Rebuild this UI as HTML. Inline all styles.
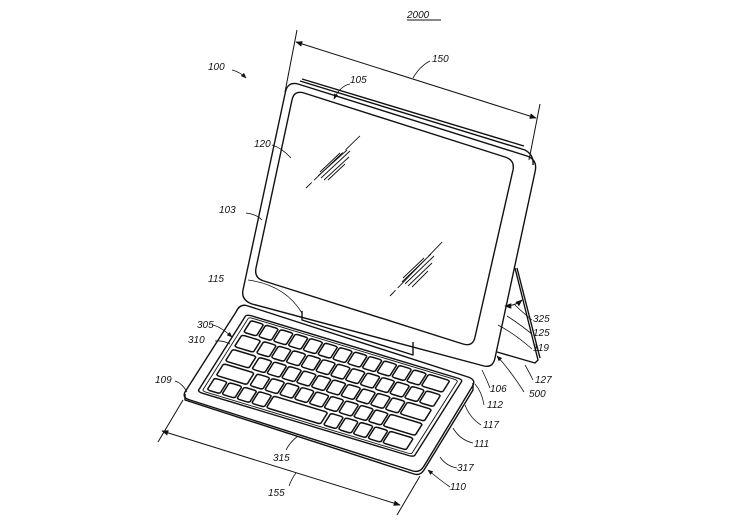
<!DOCTYPE html>
<html><head><meta charset="utf-8"><style>
html,body{margin:0;padding:0;background:#fff}
svg{display:block}
text{font-family:"Liberation Sans",sans-serif;font-style:italic;font-size:10px;fill:#111}
</style></head><body>
<svg width="753" height="524" viewBox="0 0 753 524" xmlns="http://www.w3.org/2000/svg">
<defs>
<marker id="ah" viewBox="0 0 10 10" refX="9" refY="5" markerWidth="7" markerHeight="7" orient="auto-start-reverse"><path d="M0,1 L10,5 L0,9 z" fill="#111"/></marker>
</defs>
<g fill="none" stroke="#111" stroke-width="1.4" stroke-linejoin="round">
<!-- stand -->
<path d="M515,268 L538,360 L535,363 L497,352"/>
<path d="M517,268 L540,358"/>
<!-- tablet outer -->
<path d="M298,84 Q287,81 285,94 L243,290 Q241,300 252,304 L484,366 Q493,368 495,358 L535,172 Q538,160 527,156 Z"/>
<path d="M300,81 L525,150 Q534,155 533,165" />
<path d="M302,79 L524,146"/>
<!-- screen -->
<path d="M304,93 Q294,90 292,100 L256,268 Q254,278 264,281 L463,344 Q473,347 475,337 L513,170 Q515,160 505,157 Z"/>
<!-- glare -->
<g stroke-width="0.9">
<path d="M306,188 L364,132" stroke-dasharray="8 3 40 4 20"/>
<path d="M318,176 L347,150"/><path d="M321,178 L350,151"/><path d="M324,180 L349,157"/><path d="M320,172 L340,153"/><path d="M328,180 L345,164"/>
<path d="M390,296 L447,237" stroke-dasharray="8 3 40 4 20"/>
<path d="M402,282 L431,254"/><path d="M405,284 L434,256"/><path d="M408,286 L432,263"/><path d="M403,278 L424,258"/><path d="M412,287 L428,271"/>
</g>
<!-- hinge strip -->
<path d="M302,311 L302,320 L413,355 L413,342"/>
<!-- keyboard base -->
<path d="M248,306 Q240,303 236,312 L185,392 Q182,398 190,400 L413,471 Q420,473 424,466 L472,387 Q477,380 468,377 Z"/>
<path d="M185,394 L185,400 L414,474 Q420,476 424,470 L473,390 L473,383"/>
<g transform="matrix(2.35,0.71,-0.57,0.9,240,307)">
<rect x="4" y="5" width="92" height="86" rx="2" vector-effect="non-scaling-stroke"/>
<rect x="5.5" y="7" width="89" height="82" rx="1.5" vector-effect="non-scaling-stroke" stroke-width="0.9"/>
<g stroke-width="1.5">
<rect x="7" y="9.5" width="5.4" height="13" rx="1.3" vector-effect="non-scaling-stroke"/>
<rect x="13.3" y="9.5" width="5.4" height="13" rx="1.3" vector-effect="non-scaling-stroke"/>
<rect x="19.6" y="9.5" width="5.4" height="13" rx="1.3" vector-effect="non-scaling-stroke"/>
<rect x="25.9" y="9.5" width="5.4" height="13" rx="1.3" vector-effect="non-scaling-stroke"/>
<rect x="32.2" y="9.5" width="5.4" height="13" rx="1.3" vector-effect="non-scaling-stroke"/>
<rect x="38.5" y="9.5" width="5.4" height="13" rx="1.3" vector-effect="non-scaling-stroke"/>
<rect x="44.8" y="9.5" width="5.4" height="13" rx="1.3" vector-effect="non-scaling-stroke"/>
<rect x="51.1" y="9.5" width="5.4" height="13" rx="1.3" vector-effect="non-scaling-stroke"/>
<rect x="57.4" y="9.5" width="5.4" height="13" rx="1.3" vector-effect="non-scaling-stroke"/>
<rect x="63.7" y="9.5" width="5.4" height="13" rx="1.3" vector-effect="non-scaling-stroke"/>
<rect x="70" y="9.5" width="5.4" height="13" rx="1.3" vector-effect="non-scaling-stroke"/>
<rect x="76.3" y="9.5" width="5.4" height="13" rx="1.3" vector-effect="non-scaling-stroke"/>
<rect x="82.6" y="9.5" width="9" height="13" rx="1.3" vector-effect="non-scaling-stroke"/>
<rect x="7" y="25.5" width="8" height="13" rx="1.3" vector-effect="non-scaling-stroke"/>
<rect x="16.3" y="25.5" width="5.4" height="13" rx="1.3" vector-effect="non-scaling-stroke"/>
<rect x="22.6" y="25.5" width="5.4" height="13" rx="1.3" vector-effect="non-scaling-stroke"/>
<rect x="28.9" y="25.5" width="5.4" height="13" rx="1.3" vector-effect="non-scaling-stroke"/>
<rect x="35.2" y="25.5" width="5.4" height="13" rx="1.3" vector-effect="non-scaling-stroke"/>
<rect x="41.5" y="25.5" width="5.4" height="13" rx="1.3" vector-effect="non-scaling-stroke"/>
<rect x="47.8" y="25.5" width="5.4" height="13" rx="1.3" vector-effect="non-scaling-stroke"/>
<rect x="54.1" y="25.5" width="5.4" height="13" rx="1.3" vector-effect="non-scaling-stroke"/>
<rect x="60.4" y="25.5" width="5.4" height="13" rx="1.3" vector-effect="non-scaling-stroke"/>
<rect x="66.7" y="25.5" width="5.4" height="13" rx="1.3" vector-effect="non-scaling-stroke"/>
<rect x="73" y="25.5" width="5.4" height="13" rx="1.3" vector-effect="non-scaling-stroke"/>
<rect x="79.3" y="25.5" width="5.4" height="13" rx="1.3" vector-effect="non-scaling-stroke"/>
<rect x="85.6" y="25.5" width="6" height="13" rx="1.3" vector-effect="non-scaling-stroke"/>
<rect x="7" y="41.5" width="10" height="13" rx="1.3" vector-effect="non-scaling-stroke"/>
<rect x="18.3" y="41.5" width="5.4" height="13" rx="1.3" vector-effect="non-scaling-stroke"/>
<rect x="24.6" y="41.5" width="5.4" height="13" rx="1.3" vector-effect="non-scaling-stroke"/>
<rect x="30.9" y="41.5" width="5.4" height="13" rx="1.3" vector-effect="non-scaling-stroke"/>
<rect x="37.2" y="41.5" width="5.4" height="13" rx="1.3" vector-effect="non-scaling-stroke"/>
<rect x="43.5" y="41.5" width="5.4" height="13" rx="1.3" vector-effect="non-scaling-stroke"/>
<rect x="49.8" y="41.5" width="5.4" height="13" rx="1.3" vector-effect="non-scaling-stroke"/>
<rect x="56.1" y="41.5" width="5.4" height="13" rx="1.3" vector-effect="non-scaling-stroke"/>
<rect x="62.4" y="41.5" width="5.4" height="13" rx="1.3" vector-effect="non-scaling-stroke"/>
<rect x="68.7" y="41.5" width="5.4" height="13" rx="1.3" vector-effect="non-scaling-stroke"/>
<rect x="75" y="41.5" width="5.4" height="13" rx="1.3" vector-effect="non-scaling-stroke"/>
<rect x="81.3" y="41.5" width="10.3" height="13" rx="1.3" vector-effect="non-scaling-stroke"/>
<rect x="7" y="57.5" width="13" height="13" rx="1.3" vector-effect="non-scaling-stroke"/>
<rect x="21.3" y="57.5" width="5.4" height="13" rx="1.3" vector-effect="non-scaling-stroke"/>
<rect x="27.6" y="57.5" width="5.4" height="13" rx="1.3" vector-effect="non-scaling-stroke"/>
<rect x="33.9" y="57.5" width="5.4" height="13" rx="1.3" vector-effect="non-scaling-stroke"/>
<rect x="40.2" y="57.5" width="5.4" height="13" rx="1.3" vector-effect="non-scaling-stroke"/>
<rect x="46.5" y="57.5" width="5.4" height="13" rx="1.3" vector-effect="non-scaling-stroke"/>
<rect x="52.8" y="57.5" width="5.4" height="13" rx="1.3" vector-effect="non-scaling-stroke"/>
<rect x="59.1" y="57.5" width="5.4" height="13" rx="1.3" vector-effect="non-scaling-stroke"/>
<rect x="65.4" y="57.5" width="5.4" height="13" rx="1.3" vector-effect="non-scaling-stroke"/>
<rect x="71.7" y="57.5" width="5.4" height="13" rx="1.3" vector-effect="non-scaling-stroke"/>
<rect x="78" y="57.5" width="13.6" height="13" rx="1.3" vector-effect="non-scaling-stroke"/>
<rect x="7" y="73.5" width="5.4" height="13" rx="1.3" vector-effect="non-scaling-stroke"/>
<rect x="13.3" y="73.5" width="5.4" height="13" rx="1.3" vector-effect="non-scaling-stroke"/>
<rect x="19.6" y="73.5" width="5.4" height="13" rx="1.3" vector-effect="non-scaling-stroke"/>
<rect x="25.9" y="73.5" width="5.4" height="13" rx="1.3" vector-effect="non-scaling-stroke"/>
<rect x="32.2" y="73.5" width="23" height="13" rx="1.3" vector-effect="non-scaling-stroke"/>
<rect x="56.5" y="73.5" width="5.4" height="13" rx="1.3" vector-effect="non-scaling-stroke"/>
<rect x="62.8" y="73.5" width="5.4" height="13" rx="1.3" vector-effect="non-scaling-stroke"/>
<rect x="69.1" y="73.5" width="5.4" height="13" rx="1.3" vector-effect="non-scaling-stroke"/>
<rect x="75.4" y="73.5" width="5.4" height="13" rx="1.3" vector-effect="non-scaling-stroke"/>
<rect x="81.7" y="73.5" width="9.9" height="13" rx="1.3" vector-effect="non-scaling-stroke"/>
</g>
</g>
<!-- dimension 150 -->
<path d="M297,30 L285,92" stroke-width="1"/>
<path d="M540,104 L529,160" stroke-width="1"/>
<path d="M296,42 L536,118" stroke-width="1" marker-start="url(#ah)" marker-end="url(#ah)"/>
<!-- dimension 155 -->
<path d="M183,400 L158,442" stroke-width="1"/>
<path d="M420,476 L397,515" stroke-width="1"/>
<path d="M162,431 L400,505" stroke-width="1" marker-start="url(#ah)" marker-end="url(#ah)"/>
<!-- angle 325 -->
<path d="M505,306 Q515,306 522,300" stroke-width="1" marker-start="url(#ah)" marker-end="url(#ah)"/>
<!-- leaders -->
<g stroke-width="0.8">
<path d="M232,70 Q240,72 246,78" marker-end="url(#ah)"/>
<path d="M430,61 Q420,66 413,78"/>
<path d="M350,84 Q340,86 334,99" marker-end="url(#ah)"/>
<path d="M272,145 Q282,148 291,158"/>
<path d="M246,213 Q256,214 262,220"/>
<path d="M248,280 Q285,285 302,313"/>
<path d="M212,325 Q220,326 232,337" marker-end="url(#ah)"/>
<path d="M215,341 Q222,340 230,344"/>
<path d="M175,381 Q182,383 187,392"/>
<path d="M532,320 Q522,312 514,304"/>
<path d="M532,334 Q518,323 507,316"/>
<path d="M532,349 Q515,334 498,325"/>
<path d="M533,380 Q528,370 525,365"/>
<path d="M524,392 Q510,370 497,356" marker-end="url(#ah)"/>
<path d="M490,388 Q486,378 482,370"/>
<path d="M484,405 Q482,392 475,384"/>
<path d="M481,425 Q470,418 465,405"/>
<path d="M473,443 Q460,440 453,428"/>
<path d="M457,468 Q446,466 440,457"/>
<path d="M450,487 Q440,480 428,470" marker-end="url(#ah)"/>
<path d="M286,450 Q290,442 298,436"/>
<path d="M289,486 Q292,478 296,473"/>
</g>
<path d="M407,20 L441,20" stroke-width="0.9"/>
</g>
<text x="407" y="18">2000</text>
<text x="208" y="70">100</text>
<text x="432" y="62">150</text>
<text x="350" y="83">105</text>
<text x="254" y="147">120</text>
<text x="219" y="213">103</text>
<text x="208" y="282">115</text>
<text x="197" y="328">305</text>
<text x="188" y="343">310</text>
<text x="155" y="383">109</text>
<text x="533" y="322">325</text>
<text x="533" y="336">125</text>
<text x="533" y="351">119</text>
<text x="535" y="383">127</text>
<text x="529" y="397">500</text>
<text x="490" y="392">106</text>
<text x="487" y="408">112</text>
<text x="483" y="428">117</text>
<text x="474" y="447">111</text>
<text x="457" y="471">317</text>
<text x="450" y="490">110</text>
<text x="273" y="461">315</text>
<text x="268" y="496">155</text>
</svg>
</body></html>
